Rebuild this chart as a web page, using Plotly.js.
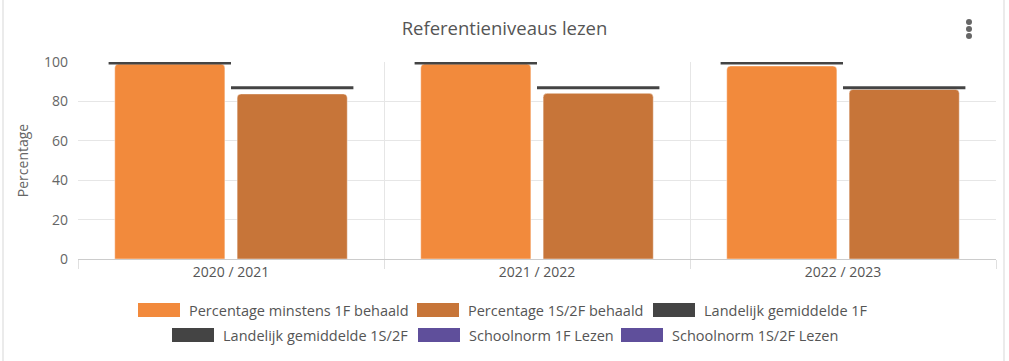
<!DOCTYPE html>
<html>
<head>
<meta charset="utf-8">
<script src="https://cdn.plot.ly/plotly-3.0.1.min.js"></script>
<style>
  html, body { margin: 0; padding: 0; background: #ffffff; }
  #wrap { position: relative; width: 1009px; height: 361px; overflow: hidden; }
  #chart { position: absolute; left: 0; top: 0; width: 1009px; height: 361px; }
  .bord { position: absolute; top: 0; width: 2px; height: 361px; background: #ebebeb; }
  .dot { position: absolute; width: 6px; height: 6px; border-radius: 50%; background: #666666; left: 966px; }
</style>
</head>
<body>
<div id="wrap">
  <div id="chart"></div>
  <div class="bord" style="left:2px"></div>
  <div class="bord" style="left:1003px"></div>
  <div class="dot" style="top:19px"></div>
  <div class="dot" style="top:26px"></div>
  <div class="dot" style="top:33px"></div>
</div>
<script>
// ---- data ----
const categories = ['2020 / 2021', '2021 / 2022', '2022 / 2023'];
const pct1F = [99.0, 99.0, 98.0];
const pct1S2F = [83.8, 84.1, 86.1];
const landelijk1F = [99.5, 99.5, 99.5];
const landelijk1S2F = [86.9, 86.9, 86.9];
const schoolnorm1F = [];
const schoolnorm1S2F = [];
const seriesNames = [
  'Percentage minstens 1F behaald',
  'Percentage 1S/2F behaald',
  'Landelijk gemiddelde 1F',
  'Landelijk gemiddelde 1S/2F',
  'Schoolnorm 1F Lezen',
  'Schoolnorm 1S/2F Lezen'
];
const seriesColors = ['#f28a3c', '#c77539', '#444444', '#444444', '#5f4f9b', '#5f4f9b'];
const yTickValues = [0, 20, 40, 60, 80, 100];
const chartTitle = 'Referentieniveaus lezen';
const yTitle = 'Percentage';

// ---- layout geometry ----
const W = 1009, H = 361, ML = 78, MR = 13, MT = 62, MB = 102;
const PW = W - ML - MR, PH = H - MT - MB;
const px2x = p => (p - ML) / PW;
const py2y = p => (H - MB - p) / PH;
const slotOffset = 0.2;   // half slot (category units)
const FONT = '"Open Sans", "Noto Sans", sans-serif';

const idx = categories.map((_, i) => i);

const traces = [
  {
    type: 'bar', name: seriesNames[0], x: categories, y: pct1F,
    marker: { color: seriesColors[0], line: { color: 'rgba(255,255,255,0.45)', width: 1 } },
    showlegend: false, hoverinfo: 'x+y+name'
  },
  {
    type: 'bar', name: seriesNames[1], x: categories, y: pct1S2F,
    marker: { color: seriesColors[1], line: { color: 'rgba(255,255,255,0.45)', width: 1 } },
    showlegend: false, hoverinfo: 'x+y+name'
  },
  {
    type: 'scatter', mode: 'markers', name: seriesNames[2], xaxis: 'x2',
    x: idx.map(i => i - slotOffset), y: landelijk1F,
    marker: { size: 1, opacity: 0 },
    error_x: { type: 'constant', value: slotOffset, width: 0, thickness: 3, color: seriesColors[2] },
    cliponaxis: false, showlegend: false
  },
  {
    type: 'scatter', mode: 'markers', name: seriesNames[3], xaxis: 'x2',
    x: idx.map(i => i + slotOffset), y: landelijk1S2F,
    marker: { size: 1, opacity: 0 },
    error_x: { type: 'constant', value: slotOffset, width: 0, thickness: 3, color: seriesColors[3] },
    cliponaxis: false, showlegend: false
  },
  {
    type: 'scatter', mode: 'lines', name: seriesNames[4], xaxis: 'x2',
    x: schoolnorm1F.map((_, i) => i), y: schoolnorm1F,
    line: { color: seriesColors[4], width: 3 }, showlegend: false
  },
  {
    type: 'scatter', mode: 'lines', name: seriesNames[5], xaxis: 'x2',
    x: schoolnorm1S2F.map((_, i) => i), y: schoolnorm1S2F,
    line: { color: seriesColors[5], width: 3 }, showlegend: false
  }
];

// ---- custom legend (Highcharts-style wide swatches) ----
const legendLeft = [138, 417, 653, 172, 418, 621];
const legendRowY = [310, 310, 310, 335, 335, 335];
const swW = 42, swH = 14, swGap = 7;

const shapes = [];
const annotations = [];
seriesNames.forEach((name, i) => {
  shapes.push({
    type: 'rect', xref: 'paper', yref: 'paper',
    x0: px2x(legendLeft[i]), x1: px2x(legendLeft[i] + swW),
    y0: py2y(legendRowY[i] + swH / 2), y1: py2y(legendRowY[i] - swH / 2),
    fillcolor: seriesColors[i], line: { width: 0 }, layer: 'above'
  });
  annotations.push({
    xref: 'paper', yref: 'paper', showarrow: false,
    x: px2x(legendLeft[i] + swW + swGap), xanchor: 'left',
    y: py2y(legendRowY[i]), yanchor: 'middle',
    text: name, font: { family: FONT, size: 14.5, color: '#555555' }
  });
});

const layout = {
  width: W, height: H,
  margin: { l: ML, r: MR, t: MT, b: MB, pad: 0 },
  paper_bgcolor: '#ffffff', plot_bgcolor: '#ffffff',
  font: { family: FONT, size: 14, color: '#666666' },
  title: {
    text: chartTitle, xref: 'container', yref: 'container',
    x: 0.5, xanchor: 'center', y: 1 - 29 / H, yanchor: 'middle',
    font: { family: FONT, size: 18.5, color: '#555555' }
  },
  barmode: 'group', bargap: 0.2, bargroupgap: 0.1, barcornerradius: 4,
  showlegend: false,
  xaxis: {
    type: 'category', tickson: 'boundaries', ticks: 'outside', ticklen: 9,
    tickcolor: '#e0e0e0', showgrid: true, gridcolor: '#e6e6e6', gridwidth: 1,
    showline: true, linecolor: '#cccccc', linewidth: 1,
    tickfont: { family: FONT, size: 14, color: '#555555' },
    automargin: false, fixedrange: true
  },
  xaxis2: {
    overlaying: 'x', range: [-0.5, categories.length - 0.5], visible: false, fixedrange: true
  },
  yaxis: {
    range: [0, 100], tickvals: yTickValues, ticks: '', showline: false,
    showgrid: true, gridcolor: '#e6e6e6', gridwidth: 1, zeroline: false,
    ticklabelstandoff: 9,
    tickfont: { family: FONT, size: 14, color: '#666666' },
    title: { text: yTitle, standoff: 12, font: { family: FONT, size: 14, color: '#666666' } },
    automargin: false, fixedrange: true
  },
  shapes: shapes,
  annotations: annotations
};

Plotly.newPlot('chart', traces, layout, { displayModeBar: false, staticPlot: false, responsive: false });
</script>
</body>
</html>
